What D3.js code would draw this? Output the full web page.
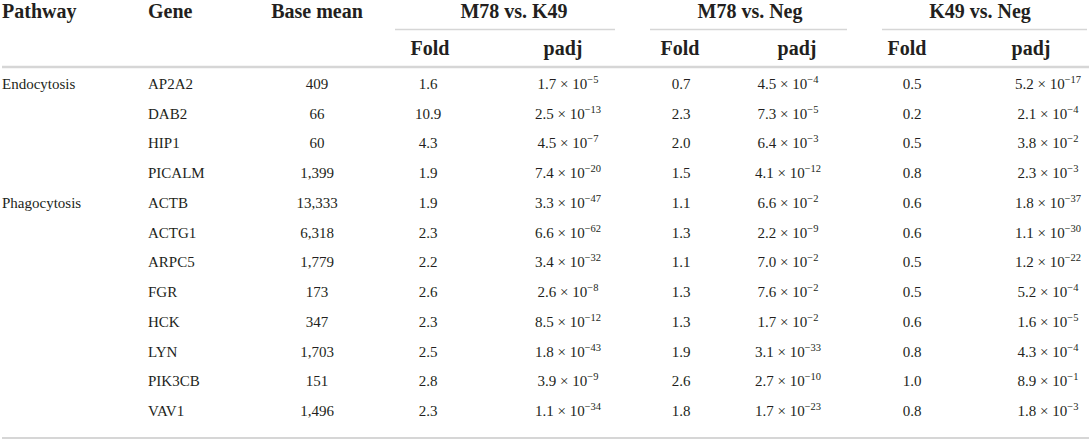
<!DOCTYPE html>
<html>
<head>
<meta charset="utf-8">
<script src="https://cdn.jsdelivr.net/npm/d3@7"></script>
<style>
  body { margin: 0; background: #fff; }
  text { font-family: "Liberation Serif", "Times New Roman", serif; fill: #231f20; }
</style>
</head>
<body>
<svg id="board" width="1089" height="444"></svg>
<script>
// table values
let pathways = ['Endocytosis', '', '', '', 'Phagocytosis', '', '', '', '', '', '', '']
let genes = ['AP2A2', 'DAB2', 'HIP1', 'PICALM', 'ACTB', 'ACTG1', 'ARPC5', 'FGR', 'HCK', 'LYN', 'PIK3CB', 'VAV1']
let baseMean = [409, 66, 60, 1399, 13333, 6318, 1779, 173, 347, 1703, 151, 1496]

let foldM78K49 = [1.6, 10.9, 4.3, 1.9, 1.9, 2.3, 2.2, 2.6, 2.3, 2.5, 2.8, 2.3]
let padjM78K49 = [1.7e-5, 2.5e-13, 4.5e-7, 7.4e-20, 3.3e-47, 6.6e-62, 3.4e-32, 2.6e-8, 8.5e-12, 1.8e-43, 3.9e-9, 1.1e-34]

let foldM78Neg = [0.7, 2.3, 2.0, 1.5, 1.1, 1.3, 1.1, 1.3, 1.3, 1.9, 2.6, 1.8]
let padjM78Neg = [4.5e-4, 7.3e-5, 6.4e-3, 4.1e-12, 6.6e-2, 2.2e-9, 7.0e-2, 7.6e-2, 1.7e-2, 3.1e-33, 2.7e-10, 1.7e-23]

let foldK49Neg = [0.5, 0.2, 0.5, 0.8, 0.6, 0.6, 0.5, 0.5, 0.6, 0.8, 1.0, 0.8]
let padjK49Neg = [5.2e-17, 2.1e-4, 3.8e-2, 2.3e-3, 1.8e-37, 1.1e-30, 1.2e-22, 5.2e-4, 1.6e-5, 4.3e-4, 8.9e-1, 1.8e-3]

let groups = ['M78 vs. K49', 'M78 vs. Neg', 'K49 vs. Neg']
let topHeaders = ['Pathway', 'Gene', 'Base mean']

let board = d3.select('#board')

// column layout: header position and body position per column
let columnKeys = ['pathway', 'gene', 'base', 'f1', 'p1', 'f2', 'p2', 'f3', 'p3']
let headX = d3.scaleOrdinal()
    .domain(columnKeys)
    .range([2, 148, 317, 430, 563, 680, 797, 907, 1031])
let colX = d3.scaleOrdinal()
    .domain(columnKeys)
    .range([2, 148, 317, 428, 568, 681, 788, 912, 1048])

let groupSpan = d3.scaleOrdinal()
    .domain(groups)
    .range([[395, 615], [650, 847], [882, 1087]])
let groupX = d3.scaleOrdinal()
    .domain(groups)
    .range([514, 750, 980])

// row layout
let rowY = d3.scalePoint()
    .domain(d3.range(genes.length))
    .range([89, 416])

let lineColor = '#d6d6d6'
let headSize = '20px'

// header row 1
board.selectAll('.top-header')
    .data(topHeaders)
    .enter()
    .append('text')
    .attr('x', (d, i) => headX(columnKeys[i]))
    .attr('y', 18)
    .attr('text-anchor', (d, i) => i === 2 ? 'middle' : 'start')
    .style('font-weight', 'bold')
    .style('font-size', headSize)
    .text(d => d)

board.selectAll('.group-header')
    .data(groups)
    .enter()
    .append('text')
    .attr('x', d => groupX(d))
    .attr('y', 18)
    .attr('text-anchor', 'middle')
    .style('font-weight', 'bold')
    .style('font-size', headSize)
    .text(d => d)

board.selectAll('.group-line')
    .data(groups)
    .enter()
    .append('line')
    .attr('x1', d => groupSpan(d)[0])
    .attr('x2', d => groupSpan(d)[1])
    .attr('y1', 29.5)
    .attr('y2', 29.5)
    .attr('stroke', lineColor)
    .attr('stroke-width', 1.5)

// header row 2
let subKeys = ['f1', 'p1', 'f2', 'p2', 'f3', 'p3']
board.selectAll('.sub-header')
    .data(subKeys)
    .enter()
    .append('text')
    .attr('x', d => headX(d))
    .attr('y', 55)
    .attr('text-anchor', 'middle')
    .style('font-weight', 'bold')
    .style('font-size', headSize)
    .text(d => d[0] === 'f' ? 'Fold' : 'padj')

// rules
board.append('line')
    .attr('x1', 2).attr('x2', 1089)
    .attr('y1', 67).attr('y2', 67)
    .attr('stroke', lineColor).attr('stroke-width', 2.5)

board.append('line')
    .attr('x1', 2).attr('x2', 1089)
    .attr('y1', 438).attr('y2', 438)
    .attr('stroke', lineColor).attr('stroke-width', 2)

// body
let formatBase = d3.format(',')
let rows = genes.map((g, i) => ({
    index: i,
    pathway: pathways[i],
    gene: g,
    base: formatBase(baseMean[i]),
    f1: foldM78K49[i].toFixed(1), p1: padjM78K49[i],
    f2: foldM78Neg[i].toFixed(1), p2: padjM78Neg[i],
    f3: foldK49Neg[i].toFixed(1), p3: padjK49Neg[i]
}))

let row = board.selectAll('.row')
    .data(rows)
    .enter()
    .append('g')
    .attr('transform', d => 'translate(0,' + rowY(d.index) + ')')

let plainCols = ['pathway', 'gene', 'base', 'f1', 'f2', 'f3']
plainCols.forEach(key => {
    row.append('text')
        .attr('x', colX(key))
        .attr('text-anchor', key === 'pathway' || key === 'gene' ? 'start' : 'middle')
        .style('font-size', '15px')
        .text(d => d[key])
})

// padj values as mantissa × 10^exp
let padjCols = ['p1', 'p2', 'p3']
padjCols.forEach(key => {
    let t = row.append('text')
        .attr('x', colX(key))
        .attr('text-anchor', 'middle')
        .style('font-size', '15px')
    t.each(function (d) {
        let parts = d[key].toExponential(1).split('e')
        let exp = parseInt(parts[1])
        let node = d3.select(this)
        node.append('tspan').text(parts[0] + ' \u00d7 10')
        node.append('tspan')
            .attr('dy', -6)
            .style('font-size', '10.5px')
            .text('\u2212' + Math.abs(exp))
    })
})
</script>
</body>
</html>
